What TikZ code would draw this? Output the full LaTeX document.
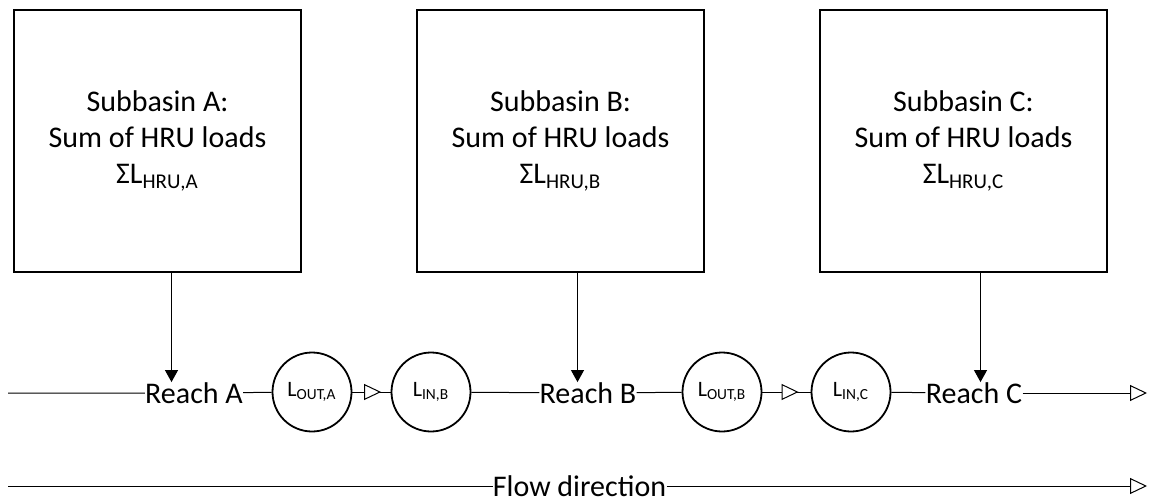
\documentclass[tikz,border=0pt]{standalone}
\usepackage{fontspec}
\setmainfont{Carlito}
\usetikzlibrary{arrows.meta,decorations.markings}

\begin{document}
\begin{tikzpicture}[x=0.5pt, y=-0.5pt,
  box_style/.style={draw=black, line width=0.8pt, minimum width=143.5pt, minimum height=131pt, align=center, font=\fontsize{15}{18}\selectfont},
  load_style/.style={circle, draw=black, line width=0.9pt, minimum size=39.5pt, inner sep=0pt, font=\fontsize{11}{13}\selectfont},
  reach_style/.style={inner sep=0pt, font=\fontsize{15}{18}\selectfont},
  edge_style/.style={draw=black, line width=0.5pt},
  flow_tip/.style={-{Triangle[length=8.5pt, width=8pt, fill=white, line width=0.5pt]}},
  drop_tip/.style={-{Triangle[length=6pt, width=6.5pt]}},
  mid_tip/.style={postaction={decorate}, decoration={markings, mark=at position 0.75 with {\arrow{Triangle[length=8.5pt, width=8pt, fill=white, line width=0.5pt]}}}}]
      \useasboundingbox (0,0) rectangle (1149,502);
      \draw
        (157.5, 141) node[box_style] (boxA){Subbasin A:\\Sum of HRU loads\\ΣL\textsubscript{HRU,A}}
        (560.5, 141) node[box_style] (boxB){Subbasin B:\\Sum of HRU loads\\ΣL\textsubscript{HRU,B}}
        (963.5, 141) node[box_style] (boxC){Subbasin C:\\Sum of HRU loads\\ΣL\textsubscript{HRU,C}}
        (194, 393) node[reach_style] (reachA){Reach A}
        (588, 393) node[reach_style] (reachB){Reach B}
        (974, 393) node[reach_style] (reachC){Reach C}
        (312, 392) node[load_style] (outA){L\textsubscript{OUT,A}}
        (431, 392) node[load_style] (inB){L\textsubscript{IN,B}}
        (722, 392) node[load_style] (outB){L\textsubscript{OUT,B}}
        (851, 392) node[load_style] (inC){L\textsubscript{IN,C}}
        (579.5, 486) node[reach_style] (flow){Flow direction};
      \coordinate (reach_in) at (8, 393);
      \coordinate (reach_out) at (1147, 393);
      \coordinate (flow_in) at (8, 486);
      \coordinate (flow_out) at (1147, 486);
      % reach chain
      \draw[edge_style] (reach_in) -- (reachA) -- (outA);
      \draw[edge_style, mid_tip] (outA) -- (inB);
      \draw[edge_style] (inB) -- (reachB) -- (outB);
      \draw[edge_style, mid_tip] (outB) -- (inC);
      \draw[edge_style] (inC) -- (reachC);
      \draw[edge_style, flow_tip] (reachC) -- (reach_out);
      % subbasin loads
      \begin{scope}[drop_tip]
        \draw[edge_style] ([xshift=7pt]boxA.south) -- ([xshift=7pt]boxA.south |- reachA.north);
        \draw[edge_style] ([xshift=8.5pt]boxB.south) -- ([xshift=8.5pt]boxB.south |- reachB.north);
        \draw[edge_style] ([xshift=8.5pt]boxC.south) -- ([xshift=8.5pt]boxC.south |- reachC.north);
      \end{scope}
      % flow direction
      \draw[edge_style] (flow_in) -- (flow);
      \draw[edge_style, flow_tip] (flow) -- (flow_out);
    \end{tikzpicture}
\end{document}
